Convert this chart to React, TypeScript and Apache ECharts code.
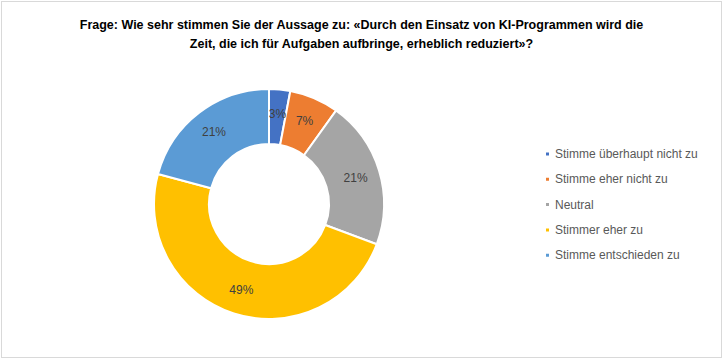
import React, { useEffect, useRef } from "react";
import * as echarts from "echarts";

const categories = [
  "Stimme überhaupt nicht zu",
  "Stimme eher nicht zu",
  "Neutral",
  "Stimmer eher zu",
  "Stimme entschieden zu",
];
const values = [3, 7, 21, 49, 21];
const colors = ["#4472C4", "#ED7D31", "#A5A5A5", "#FFC000", "#5B9BD5"];
const titleLines = [
  "Frage: Wie sehr stimmen Sie der Aussage zu: «Durch den Einsatz von KI-Programmen wird die",
  "Zeit, die ich für Aufgaben aufbringe, erheblich reduziert»?",
];

export default function App() {
  const ref = useRef<HTMLDivElement>(null);
  useEffect(() => {
    if (!ref.current) return;
    const chart = echarts.init(ref.current, undefined, { renderer: "svg" });
    const font = "'Liberation Sans', Arial, sans-serif";
    chart.setOption({
      animation: false,
      backgroundColor: "#ffffff",
      title: {
        text: titleLines.join("\n"),
        left: "center",
        top: 8,
        textStyle: {
          fontFamily: font,
          fontSize: 12.5,
          fontWeight: "bold",
          color: "#000000",
          lineHeight: 19,
        },
      },
      legend: {
        orient: "vertical",
        left: 537,
        top: 141,
        icon: "rect",
        itemWidth: 5,
        itemHeight: 5,
        itemGap: 13.3,
        itemTextGap: 6,
        textStyle: { fontFamily: font, fontSize: 12, color: "#595959" },
        data: categories,
      },
      series: [
        {
          type: "pie",
          center: [267, 202],
          radius: [60, 115],
          startAngle: 90,
          clockwise: true,
          avoidLabelOverlap: false,
          itemStyle: { borderColor: "#ffffff", borderWidth: 2 },
          label: {
            show: true,
            position: "inside",
            formatter: (p: any) => `${p.value}%`,
            fontFamily: font,
            fontSize: 12,
            color: "#404040",
          },
          labelLine: { show: false },
          emphasis: { disabled: true },
          data: categories.map((name, i) => ({
            name,
            value: values[i],
            itemStyle: { color: colors[i] },
          })),
        },
      ],
    });
    return () => chart.dispose();
  }, []);
  return (
    <div
      style={{
        position: "fixed",
        left: 0,
        top: 0,
        width: 724,
        height: 361,
        background: "#fff",
      }}
    >
      <div
        ref={ref}
        style={{
          position: "absolute",
          left: 1,
          top: 1,
          width: 719,
          height: 355,
          border: "1px solid #D9D9D9",
        }}
      />
    </div>
  );
}
